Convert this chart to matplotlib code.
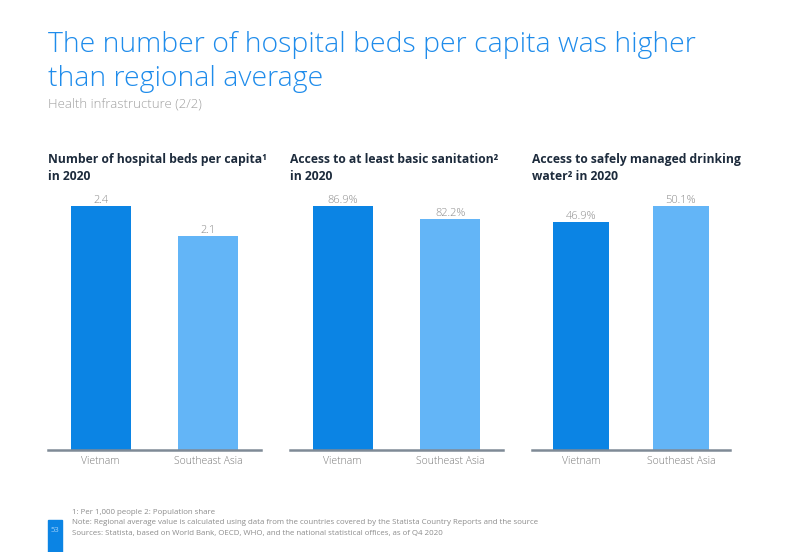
import matplotlib.pyplot as plt

plt.rcParams['font.family'] = ['Open Sans', 'DejaVu Sans']

regions = ["Vietnam", "Southeast Asia"]
beds = [2.4, 2.1]
sanitation = [86.9, 82.2]
water = [46.9, 50.1]

titles = ["Number of hospital beds per capita\u00b9\nin 2020",
          "Access to at least basic sanitation\u00b2\nin 2020",
          "Access to safely managed drinking\nwater\u00b2 in 2020"]
values = [beds, sanitation, water]
fmts = ["{:.1f}", "{:.1f}%", "{:.1f}%"]

W, H = 796, 552
fig = plt.figure(figsize=(W / 100, H / 100), dpi=100)

blue = "#1f8ceb"
dark = "#0b84e4"
light = "#63b5f7"
navy = "#1d2b3c"
grey = "#8a8a8a"

# title, two lines placed on their baselines
fig.text(48 / W, 1 - 52 / H, "The number of hospital beds per capita was higher",
         fontsize=20.5, color=blue, fontweight='light', va='baseline')
fig.text(48 / W, 1 - 86 / H, "than regional average",
         fontsize=20.5, color=blue, fontweight='light', va='baseline')
fig.text(48 / W, 1 - 108 / H, "Health infrastructure (2/2)", fontsize=9.5, color="#a0a0a0",
         fontweight='light', va='baseline')

# axes pixel spans (left, right)
spans = [(48, 261), (290, 503), (532, 730)]
top_px, base_px = 190, 450

for i in range(3):
    l, r = spans[i]
    ax = fig.add_axes([l / W, 1 - base_px / H, (r - l) / W, (base_px - top_px) / H])
    vals = values[i]
    ax.bar([0, 1], vals, width=0.56, color=[dark, light])
    ax.set_xlim(-0.49, 1.49)
    ax.set_ylim(0, max(vals) * 260 / 244)
    for x, v in zip([0, 1], vals):
        ax.text(x, v, fmts[i].format(v), ha='center', va='bottom', fontsize=8,
                color=grey, fontweight='light')
    for s in ["top", "right", "left"]:
        ax.spines[s].set_visible(False)
    ax.spines["bottom"].set_color("#7f8a96")
    ax.spines["bottom"].set_linewidth(1.8)
    ax.set_yticks([])
    ax.set_xticks([0, 1])
    ax.set_xticklabels(regions, fontsize=7.5, color="#7a7a7a", fontweight='light')
    ax.tick_params(axis='x', length=0, pad=4)
    fig.text(l / W, 1 - 168 / H, titles[i], fontsize=8.7, color=navy, fontweight='bold',
             va='center', linespacing=1.4)

notes = ["1: Per 1,000 people 2: Population share",
         "Note: Regional average value is calculated using data from the countries covered by the Statista Country Reports and the source",
         "Sources: Statista, based on World Bank, OECD, WHO, and the national statistical offices, as of Q4 2020"]
for k, n in enumerate(notes):
    fig.text(72 / W, 1 - (513 + 10 * k) / H, n, fontsize=5.7, color="#8c8c8c", va='center')

fig.patches.append(plt.Rectangle((48 / W, 0), 14 / W, 32 / H, transform=fig.transFigure,
                                 color=dark, zorder=0))
fig.text(55 / W, 1 - 531 / H, "53", fontsize=5.5, color="#9fd0f8", ha='center', va='center')

fig.savefig("out.png", dpi=100)
